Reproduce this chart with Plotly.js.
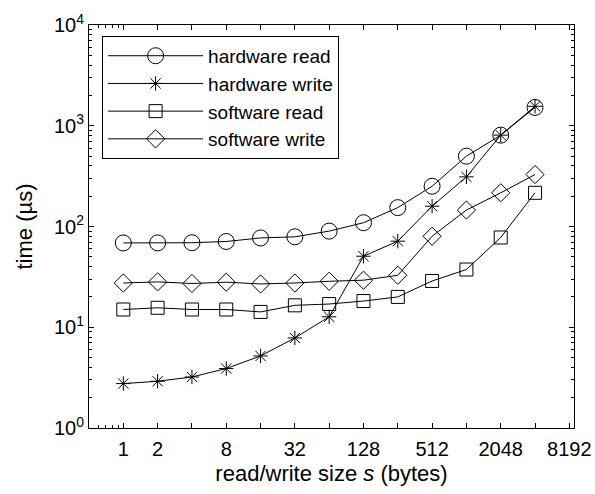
<!DOCTYPE html>
<html>
<head>
<meta charset="utf-8">
<script src="https://cdn.plot.ly/plotly-3.0.1.min.js"></script>
<style>html,body{margin:0;padding:0;background:#fff;}#chart{width:595px;height:494px;}</style>
</head>
<body>
<div id="chart"></div>
<script>
// read/write sizes (bytes)
const sizes = [1, 2, 4, 8, 16, 32, 64, 128, 256, 512, 1024, 2048, 4096];
// times (microseconds)
const hardwareRead  = [68.7, 68.7, 69, 71, 77, 79, 90, 109, 154, 251, 499, 807, 1520];
const hardwareWrite = [2.76, 2.91, 3.21, 3.89, 5.19, 7.83, 12.7, 50.7, 71.5, 159, 311, 807, 1560];
const softwareRead  = [15.0, 15.6, 15.0, 15.0, 14.2, 16.5, 17.0, 18.2, 20.0, 28.8, 37.4, 77.8, 216];
const softwareWrite = [27.5, 28.2, 27.2, 28.0, 26.9, 27.5, 28.6, 29.3, 32.8, 80, 145.6, 216, 328];

const seriesNames = ['hardware read', 'hardware write', 'software read', 'software write'];

const xTickVals = [1, 2, 4, 8, 16, 32, 64, 128, 256, 512, 1024, 2048, 4096, 8192];
const xTickText = ['1', '2', '', '8', '', '32', '', '128', '', '512', '', '2048', '', '8192'];
const xMinorVals = [0.6, 0.7, 0.8, 0.9];
const yTickVals = [1, 10, 100, 1000, 10000];
const yTickText = ['10<sup>0</sup>', '10<sup>1</sup>', '10<sup>2</sup>', '10<sup>3</sup>', '10<sup>4</sup>'];
const yMinorVals = [];
for (let d = 1; d <= 1000; d *= 10) for (let k = 2; k <= 9; k++) yMinorVals.push(k * d);

const font = 'Liberation Sans, Arial, Helvetica, sans-serif';

function mk(y, name, symbol, size) {
  return {
    x: sizes, y: y, name: name, type: 'scatter', mode: 'lines+markers',
    line: {color: '#000', width: 1},
    marker: {symbol: symbol, size: size, color: '#000', line: {color: '#000', width: 1}}
  };
}

const traces = [
  mk(hardwareRead, seriesNames[0], 'circle-open', 16),
  mk(hardwareWrite, seriesNames[1], 'asterisk-open', 12),
  mk(softwareRead, seriesNames[2], 'square-open', 13),
  mk(softwareWrite, seriesNames[3], 'diamond-open', 14)
];

const layout = {
  width: 595, height: 494,
  margin: {l: 89, r: 21, t: 25, b: 66},
  paper_bgcolor: '#fff', plot_bgcolor: '#fff',
  font: {family: font, size: 20, color: '#000'},
  showlegend: true,
  legend: {
    x: 0.027, y: 0.973, xanchor: 'left', yanchor: 'top',
    bordercolor: '#000', borderwidth: 1, bgcolor: '#fff',
    font: {family: font, size: 19, color: '#000'},
    itemwidth: 95, tracegroupgap: 0
  },
  xaxis: {
    type: 'log', range: [Math.log10(0.5), Math.log10(9000)],
    tickmode: 'array', tickvals: xTickVals, ticktext: xTickText,
    ticks: 'inside', ticklen: 5, tickwidth: 1, tickcolor: '#000',
    showline: true, linecolor: '#000', linewidth: 1, mirror: 'ticks',
    showgrid: false, zeroline: false, ticklabelstandoff: 3,
    tickfont: {family: font, size: 20, color: '#000'},
    minor: {tickmode: 'array', tickvals: xMinorVals, ticks: 'inside', ticklen: 3, tickcolor: '#000', showgrid: false},
    title: {text: 'read/write size <i>s</i> (bytes)', font: {family: font, size: 22, color: '#000'}, standoff: 6}
  },
  yaxis: {
    type: 'log', range: [0, 4],
    tickmode: 'array', tickvals: yTickVals, ticktext: yTickText,
    ticks: 'inside', ticklen: 5, tickwidth: 1, tickcolor: '#000',
    showline: true, linecolor: '#000', linewidth: 1, mirror: 'ticks',
    showgrid: false, zeroline: false,
    tickfont: {family: font, size: 20, color: '#000'},
    minor: {tickmode: 'array', tickvals: yMinorVals, ticks: 'inside', ticklen: 3, tickcolor: '#000', showgrid: false},
    title: {text: 'time (\u00b5s)', font: {family: font, size: 22, color: '#000'}, standoff: 15}
  }
};

Plotly.newPlot('chart', traces, layout, {displayModeBar: false, staticPlot: true});
</script>
</body>
</html>
